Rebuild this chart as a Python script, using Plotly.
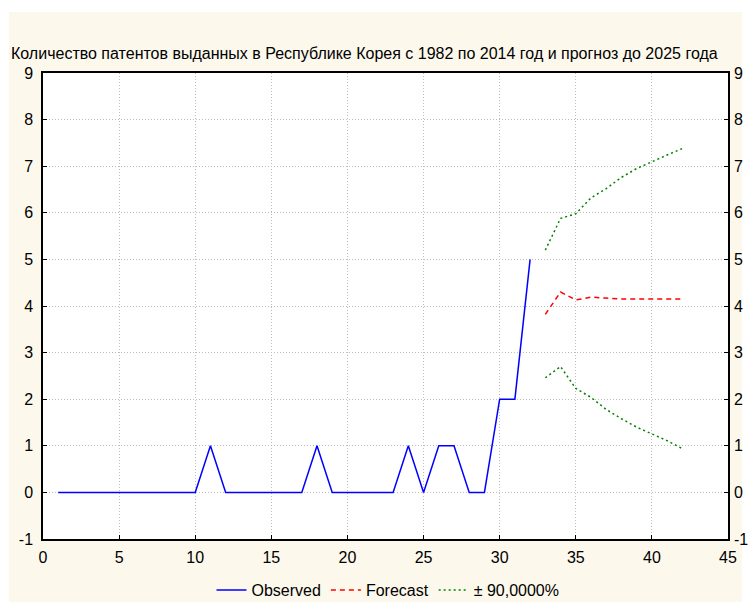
import plotly.graph_objects as go

# Observed annual counts (index 1..32 -> 1982..2013/2014)
obs_x = list(range(1, 33))
obs_y = [0, 0, 0, 0, 0, 0, 0, 0, 0, 0,
         1, 0, 0, 0, 0, 0, 0, 1, 0, 0,
         0, 0, 0, 1, 0, 1, 1, 0, 0, 2,
         2, 5]

# Forecast horizon and 90% bounds
fc_x = list(range(33, 43))
fc_y = [3.82, 4.30, 4.13, 4.19, 4.17, 4.15, 4.15, 4.15, 4.15, 4.15]
upper_y = [5.20, 5.88, 5.98, 6.32, 6.52, 6.76, 6.95, 7.10, 7.24, 7.38]
lower_y = [2.46, 2.70, 2.23, 2.04, 1.78, 1.58, 1.40, 1.25, 1.11, 0.94]

x_ticks = [0, 5, 10, 15, 20, 25, 30, 35, 40, 45]
y_ticks = [-1, 0, 1, 2, 3, 4, 5, 6, 7, 8, 9]
y_tick_text = [str(v) for v in y_ticks]

title_text = "Количество патентов выданных в Республике Корея с 1982 по 2014 год и прогноз до 2025 года"

FONT = "Liberation Sans, Arial, sans-serif"
CREAM = "#FDF8EC"

fig = go.Figure()
fig.add_trace(go.Scatter(x=obs_x, y=obs_y, mode="lines", name="Observed",
                         line=dict(color="#0000FF", width=1.5)))
fig.add_trace(go.Scatter(x=fc_x, y=fc_y, mode="lines", name="Forecast",
                         line=dict(color="#FF0000", width=1.5, dash="5px,4px")))
fig.add_trace(go.Scatter(x=fc_x, y=upper_y, mode="lines", name="± 90,0000%",
                         line=dict(color="#008000", width=1.5, dash="2px,3px"),
                         legendgroup="ci"))
fig.add_trace(go.Scatter(x=fc_x, y=lower_y, mode="lines", name="± 90,0000%",
                         line=dict(color="#008000", width=1.5, dash="2px,3px"),
                         legendgroup="ci", showlegend=False))
# carrier for the right-hand axis
fig.add_trace(go.Scatter(x=[0], y=[0], yaxis="y2", mode="markers",
                         marker=dict(opacity=0), showlegend=False, hoverinfo="skip"))

W, H = 749, 602
L, R, T, B = 43, 21, 73, 63
pw, ph = W - L - R, H - T - B

def px_x(p):
    return (p - L) / pw

def px_y(p):
    return (H - B - p) / ph

axis_common = dict(
    showline=True, linecolor="black", linewidth=1.5,
    ticks="inside", ticklen=4, tickcolor="black",
    showgrid=True, gridcolor="#BDBDBD", griddash="1px,2px", gridwidth=1,
    zeroline=False, automargin=False,
    tickfont=dict(family=FONT, size=16, color="black"),
)

fig.update_layout(
    width=W, height=H,
    margin=dict(l=L, r=R, t=T, b=B, autoexpand=False),
    paper_bgcolor="white",
    plot_bgcolor="white",
    font=dict(family=FONT, color="black"),
    xaxis=dict(range=[0, 45], tickvals=x_ticks, mirror=True,
               ticklabelstandoff=3, **axis_common),
    yaxis=dict(range=[-1, 9], tickvals=y_ticks, ticktext=y_tick_text, mirror=True,
               ticklabelstandoff=5, **axis_common),
    yaxis2=dict(range=[-1, 9], tickvals=y_ticks, ticktext=y_tick_text,
                overlaying="y", side="right", automargin=False,
                showline=False, ticks="inside", ticklen=4, tickcolor="black",
                showgrid=False, zeroline=False, ticklabelstandoff=5,
                tickfont=dict(family=FONT, size=16, color="black")),
    showlegend=True,
    legend=dict(orientation="h", x=px_x(388), xanchor="center",
                y=px_y(590), yanchor="middle",
                bgcolor="rgba(0,0,0,0)",
                font=dict(family=FONT, size=16, color="black"),
                itemwidth=30, tracegroupgap=0),
    shapes=[
        dict(type="rect", xref="paper", yref="paper", layer="below",
             x0=px_x(9), x1=px_x(742), y0=px_y(602), y1=px_y(12),
             fillcolor=CREAM, line=dict(width=0)),
        dict(type="rect", xref="paper", yref="paper", layer="below",
             x0=0, x1=1, y0=0, y1=1,
             fillcolor="white", line=dict(width=0)),
    ],
    annotations=[
        dict(text=title_text, xref="paper", yref="paper",
             x=px_x(9), y=px_y(53), xanchor="left", yanchor="middle",
             showarrow=False, font=dict(family=FONT, size=16, color="black")),
    ],
)

fig.write_html("out.html")
